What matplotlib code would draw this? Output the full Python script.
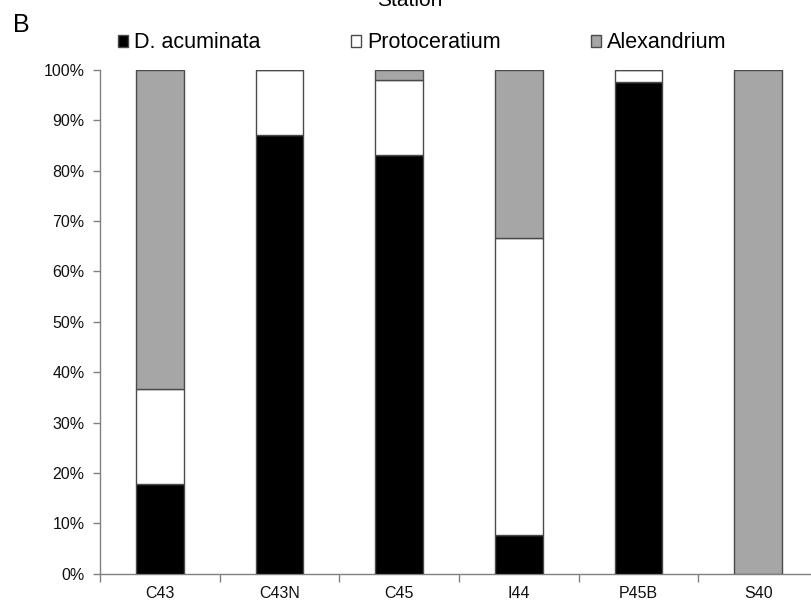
import matplotlib
matplotlib.use("Agg")
import matplotlib.pyplot as plt
from matplotlib.ticker import FixedLocator, PercentFormatter
import numpy as np

plt.rcParams['font.family'] = ['Liberation Sans', 'DejaVu Sans']

stations = ["C43", "C43N", "C45", "I44", "P45B", "S40"]
d_acuminata = [17.8, 87.0, 83.2, 7.7, 97.6, 0.0]
protoceratium = [18.8, 13.0, 14.8, 59.0, 2.4, 0.0]
alexandrium = [63.4, 0.0, 2.0, 33.3, 0.0, 100.0]
series_names = ["D. acuminata", "Protoceratium", "Alexandrium"]
colors = ["#000000", "#ffffff", "#a6a6a6"]

fig = plt.figure(figsize=(8.12, 6.07), dpi=100)
ax = fig.add_axes([100/812, 1 - 573.7/607, 718/812, (573.7 - 70)/607])

x = np.arange(len(stations))
bottom = np.zeros(len(stations))
handles = []
for vals, name, col in zip([d_acuminata, protoceratium, alexandrium], series_names, colors):
    v = np.array(vals)
    b = ax.bar(x, v, width=0.4, bottom=bottom, color=col, edgecolor="#4a4a4a",
               linewidth=1.0, label=name, zorder=3)
    handles.append(b)
    bottom += v

ax.set_xlim(-0.5, 5.5)
ax.set_ylim(0, 100)
ax.set_yticks(np.arange(0, 101, 10))
ax.yaxis.set_major_formatter(PercentFormatter(decimals=0))
ax.xaxis.set_major_locator(FixedLocator(np.arange(-0.5, 6.0, 1.0)))
ax.xaxis.set_minor_locator(FixedLocator(x))
ax.xaxis.set_major_formatter(plt.NullFormatter())
ax.set_xticks(x, minor=True)
ax.set_xticklabels(stations, minor=True)

for s in ["top", "right"]:
    ax.spines[s].set_visible(False)
for s in ["left", "bottom"]:
    ax.spines[s].set_color("#808080")
    ax.spines[s].set_linewidth(1.0)

ax.tick_params(axis="y", direction="out", length=5, width=1, color="#808080",
               labelsize=11.5, pad=6, labelcolor="#111111")
ax.tick_params(axis="x", which="major", direction="out", length=6, width=1, color="#808080")
ax.tick_params(axis="x", which="minor", length=0, labelsize=11.5, pad=9, labelcolor="#111111")

leg = fig.legend(handles=handles, labels=series_names, ncol=3, frameon=False,
                 loc="center left", bbox_to_anchor=(118/812, 1 - 43/607),
                 borderaxespad=0, borderpad=0, fontsize=15.5,
                 handlelength=0.45, handleheight=0.45, handletextpad=0.3,
                 columnspacing=4.2)

fig.text(13/812, 1 - 32/607, "B", fontsize=18, ha="left", va="baseline")
fig.text(410/812, 1 - 6/607, "Station", fontsize=15, ha="center", va="baseline")

fig.savefig("out.png", dpi=100)
